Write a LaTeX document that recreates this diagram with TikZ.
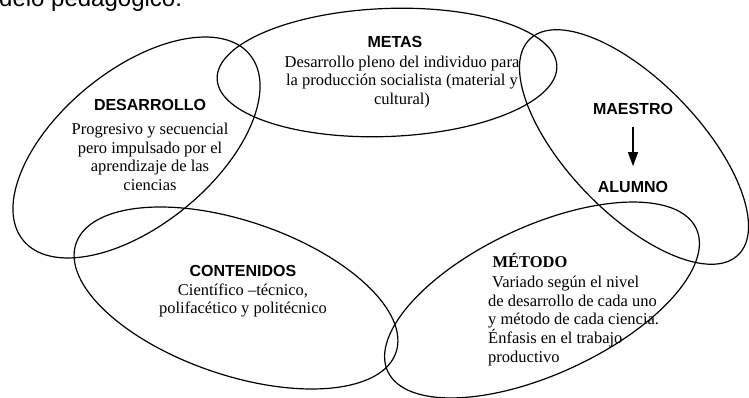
\documentclass[tikz,border=0pt]{standalone}
\usepackage{fontspec}
\setmainfont{Liberation Serif}
\newfontfamily\arialfont{Liberation Sans}
\usetikzlibrary{shapes.geometric,arrows.meta}
\begin{document}
\begin{tikzpicture}[x=1pt,y=-1pt,
  ring/.style={draw, ellipse, line width=1.2pt, inner sep=0pt, outer sep=0pt},
  head/.style={font=\arialfont\bfseries\fontsize{16}{18}\selectfont, inner sep=0pt},
  body/.style={font=\fontsize{16.5}{18.7}\selectfont, align=center, inner sep=0pt},
  ]
\useasboundingbox (0,0) rectangle (749,398);
% partial caption at top
\node[font=\arialfont\fontsize{24}{28}\selectfont, anchor=base west, inner sep=0pt] (cap) at (-1,7) {delo pedagógico.};
% ellipses
\node[ring, minimum width=340pt, minimum height=128pt, rotate=2.2] (metasE) at (387,72.5) {};
\node[ring, minimum width=293pt, minimum height=155pt, rotate=39.3] (desE) at (136.5,147.5) {};
\node[ring, minimum width=300pt, minimum height=132pt, rotate=-46] (maeE) at (634,147) {};
\node[ring, minimum width=338pt, minimum height=154pt, rotate=-18.8] (conE) at (236,298) {};
\node[ring, minimum width=340pt, minimum height=148pt, rotate=24.8] (metE) at (542,300) {};
% METAS
\node[head] (metas) at (395,42) {METAS};
\node[body] (metasT) at (402,82) {Desarrollo pleno del individuo para\\la producción socialista (material y\\cultural)};
% DESARROLLO
\node[head] (des) at (150,105) {DESARROLLO};
\node[body] (desT) at (150,157) {Progresivo y secuencial\\pero impulsado por el\\aprendizaje de las\\ciencias};
% MAESTRO / ALUMNO
\node[head] (mae) at (633,109) {MAESTRO};
\node[head] (alu) at (633,187) {ALUMNO};
\draw[-{Triangle[length=14pt,width=10pt]}, line width=1.2pt, shorten <=12pt, shorten >=15pt] (mae.south) -- (alu.north);
% CONTENIDOS
\node[head] (con) at (243,271) {CONTENIDOS};
\node[body] (conT) at (243,300.5) {Científico –técnico,\\polifacético y politécnico};
% METODO
\node[body, font=\bfseries\fontsize{16.5}{18.7}\selectfont] (met) at (530,261) {MÉTODO};
\node[body, align=left, anchor=west] (metT) at (488,321) {\hspace{4pt}Variado según el nivel\\de desarrollo de cada uno\\y método de cada ciencia.\\Énfasis en el trabajo\\productivo};
\end{tikzpicture}
\end{document}
